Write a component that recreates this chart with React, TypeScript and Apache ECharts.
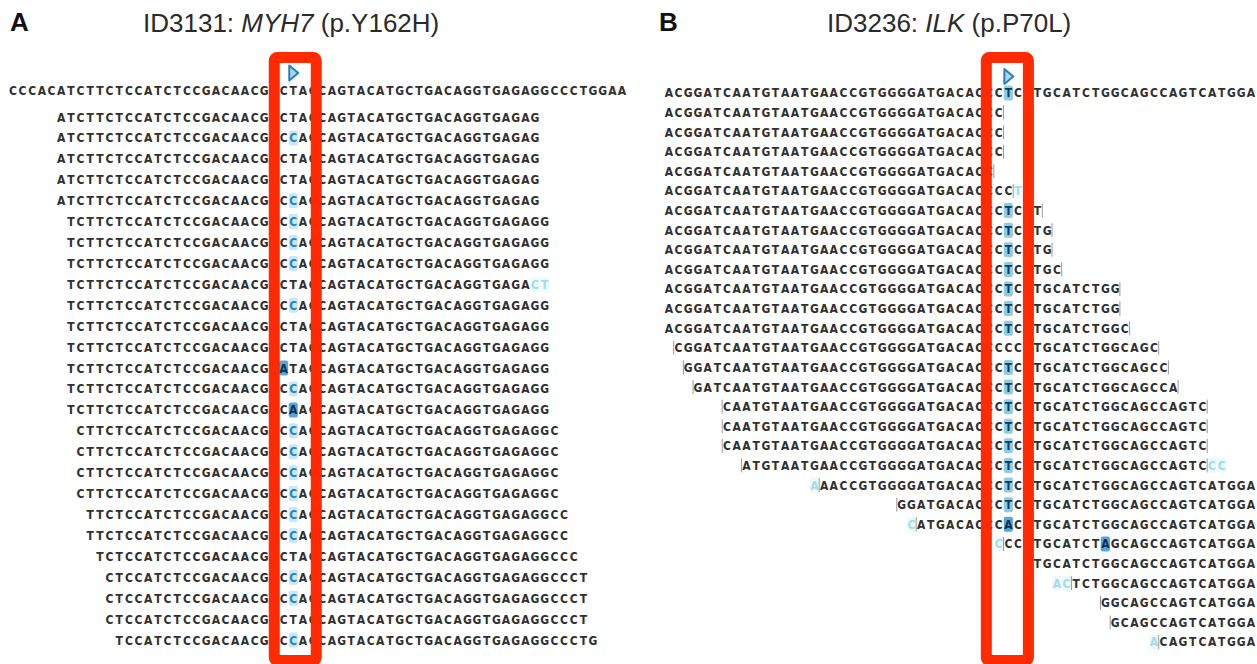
import { useEffect, useRef } from "react";
import * as echarts from "echarts";

// ---------------- Data: panel A (ID3131: MYH7 p.Y162H) ----------------
const refSeqA = "CCCACATCTTCTCCATCTCCGACAACGCCTACCAGTACATGCTGACAGGTGAGAGGCCCTGGAA";
const shownRefA = "CCCACATCTTCTCCATCTCCGACAACGCCTACCAGTACATGCTGACAGGTGAGAGGCCCTGGAA";
const readStartsA = [5, 5, 5, 5, 5, 6, 6, 6, 6, 6, 6, 6, 6, 6, 6, 7, 7, 7, 7, 8, 8, 9, 10, 10, 10, 11];
const readSeqsA = [
  "ATCTTCTCCATCTCCGACAACGCCTACCAGTACATGCTGACAGGTGAGAG",
  "ATCTTCTCCATCTCCGACAACGCCCACCAGTACATGCTGACAGGTGAGAG",
  "ATCTTCTCCATCTCCGACAACGCCTACCAGTACATGCTGACAGGTGAGAG",
  "ATCTTCTCCATCTCCGACAACGCCTACCAGTACATGCTGACAGGTGAGAG",
  "ATCTTCTCCATCTCCGACAACGCCCACCAGTACATGCTGACAGGTGAGAG",
  "TCTTCTCCATCTCCGACAACGCCCACCAGTACATGCTGACAGGTGAGAGG",
  "TCTTCTCCATCTCCGACAACGCCCACCAGTACATGCTGACAGGTGAGAGG",
  "TCTTCTCCATCTCCGACAACGCCCACCAGTACATGCTGACAGGTGAGAGG",
  "TCTTCTCCATCTCCGACAACGCCTACCAGTACATGCTGACAGGTGAGAct",
  "TCTTCTCCATCTCCGACAACGCCCACCAGTACATGCTGACAGGTGAGAGG",
  "TCTTCTCCATCTCCGACAACGCCTACCAGTACATGCTGACAGGTGAGAGG",
  "TCTTCTCCATCTCCGACAACGCCTACCAGTACATGCTGACAGGTGAGAGG",
  "TCTTCTCCATCTCCGACAACGCATACCAGTACATGCTGACAGGTGAGAGG",
  "TCTTCTCCATCTCCGACAACGCCCACCAGTACATGCTGACAGGTGAGAGG",
  "TCTTCTCCATCTCCGACAACGCCAACCAGTACATGCTGACAGGTGAGAGG",
  "CTTCTCCATCTCCGACAACGCCCACCAGTACATGCTGACAGGTGAGAGGC",
  "CTTCTCCATCTCCGACAACGCCCACCAGTACATGCTGACAGGTGAGAGGC",
  "CTTCTCCATCTCCGACAACGCCCACCAGTACATGCTGACAGGTGAGAGGC",
  "CTTCTCCATCTCCGACAACGCCCACCAGTACATGCTGACAGGTGAGAGGC",
  "TTCTCCATCTCCGACAACGCCCACCAGTACATGCTGACAGGTGAGAGGCC",
  "TTCTCCATCTCCGACAACGCCCACCAGTACATGCTGACAGGTGAGAGGCC",
  "TCTCCATCTCCGACAACGCCTACCAGTACATGCTGACAGGTGAGAGGCCC",
  "CTCCATCTCCGACAACGCCCACCAGTACATGCTGACAGGTGAGAGGCCCT",
  "CTCCATCTCCGACAACGCCCACCAGTACATGCTGACAGGTGAGAGGCCCT",
  "CTCCATCTCCGACAACGCCTACCAGTACATGCTGACAGGTGAGAGGCCCT",
  "TCCATCTCCGACAACGCCCACCAGTACATGCTGACAGGTGAGAGGCCCTG",
];
const variantColsA = [28, 30];
const markerColA = 29;

// ---------------- Data: panel B (ID3236: ILK p.P70L) ----------------
const refSeqB = "ACGGATCAATGTAATGAACCGTGGGGATGACACCCCCCTGCATCTGGCAGCCAGTCATGGA";
const shownRefB = "ACGGATCAATGTAATGAACCGTGGGGATGACACCCTCCTGCATCTGGCAGCCAGTCATGGA";
const readStartsB = [0, 0, 0, 0, 0, 0, 0, 0, 0, 0, 0, 0, 1, 2, 3, 6, 6, 6, 8, 15, 24, 25, 34, 38, 40, 45, 46, 50];
const readSeqsB = [
  "ACGGATCAATGTAATGAACCGTGGGGATGACACCC",
  "ACGGATCAATGTAATGAACCGTGGGGATGACACCC",
  "ACGGATCAATGTAATGAACCGTGGGGATGACACCC",
  "ACGGATCAATGTAATGAACCGTGGGGATGACACC",
  "ACGGATCAATGTAATGAACCGTGGGGATGACACCCCt",
  "ACGGATCAATGTAATGAACCGTGGGGATGACACCCTCCT",
  "ACGGATCAATGTAATGAACCGTGGGGATGACACCCTCCTG",
  "ACGGATCAATGTAATGAACCGTGGGGATGACACCCTCCTG",
  "ACGGATCAATGTAATGAACCGTGGGGATGACACCCTCCTGC",
  "ACGGATCAATGTAATGAACCGTGGGGATGACACCCTCCTGCATCTGG",
  "ACGGATCAATGTAATGAACCGTGGGGATGACACCCTCCTGCATCTGG",
  "ACGGATCAATGTAATGAACCGTGGGGATGACACCCTCCTGCATCTGGC",
  "CGGATCAATGTAATGAACCGTGGGGATGACACCCCCCTGCATCTGGCAGC",
  "GGATCAATGTAATGAACCGTGGGGATGACACCCTCCTGCATCTGGCAGCC",
  "GATCAATGTAATGAACCGTGGGGATGACACCCTCCTGCATCTGGCAGCCA",
  "CAATGTAATGAACCGTGGGGATGACACCCTCCTGCATCTGGCAGCCAGTC",
  "CAATGTAATGAACCGTGGGGATGACACCCTCCTGCATCTGGCAGCCAGTC",
  "CAATGTAATGAACCGTGGGGATGACACCCTCCTGCATCTGGCAGCCAGTC",
  "ATGTAATGAACCGTGGGGATGACACCCTCCTGCATCTGGCAGCCAGTCcc",
  "aAACCGTGGGGATGACACCCTCCTGCATCTGGCAGCCAGTCATGGA",
  "GGATGACACCCTCCTGCATCTGGCAGCCAGTCATGGA",
  "cATGACACCCACCTGCATCTGGCAGCCAGTCATGGA",
  "cCCCTGCATCTAGCAGCCAGTCATGGA",
  "TGCATCTGGCAGCCAGTCATGGA",
  "acTCTGGCAGCCAGTCATGGA",
  "GGCAGCCAGTCATGGA",
  "GCAGCCAGTCATGGA",
  "aCAGTCATGGA",
];
const variantColsB = [34, 36];
const markerColB = 35;

// ---------------- Layout / style ----------------
const W = 1257;
const H = 664;
const SEQ_FONT = "bold 12px 'Liberation Sans Narrow', 'DejaVu Sans Condensed', 'Roboto Condensed', 'Liberation Sans', sans-serif";
const LETTER = "#303030";
const SOFT = { color: "#a3dde8", bg: "#eef9fb" };
const MISMATCH: Record<string, { color: string; bg: string }> = {
  C: { color: "#1f86c0", bg: "#c9e7f4" },
  T: { color: "#0e3b63", bg: "#8fcbe6" },
  A: { color: "#0b2f52", bg: "#52a8d8" },
  G: { color: "#0b2f52", bg: "#8fcbe6" },
};
const BOX_RED = "#ff2a00";

type Panel = {
  refSeq: string;
  shownRef: string;
  starts: number[];
  seqs: string[];
  variant: number[];
  markerCol: number;
  bars: boolean;
  left: number;
  colPitch: number;
  row0: number;
  rowPitch: number;
  refRow: number;
  markerRow: number;
  boxTopRow: number;
  boxBottomRow: number;
  padL: number;
  padR: number;
};

const panels: Panel[] = [
  {
    refSeq: refSeqA, shownRef: shownRefA, starts: readStartsA, seqs: readSeqsA,
    variant: variantColsA, markerCol: markerColA, bars: false,
    left: 8, colPitch: 9.67, row0: 117, rowPitch: 20.92,
    refRow: -1.29, markerRow: -2.1, boxTopRow: -2.84, boxBottomRow: 25.98, padL: 1, padR: 3,
  },
  {
    refSeq: refSeqB, shownRef: shownRefB, starts: readStartsB, seqs: readSeqsB,
    variant: variantColsB, markerCol: markerColB, bars: true,
    left: 664, colPitch: 9.7, row0: 112.5, rowPitch: 19.61,
    refRow: -1.0, markerRow: -1.84, boxTopRow: -2.8, boxBottomRow: 27.95, padL: -2, padR: 0,
  },
];

type Cell = { col: number; row: number; letter: string; color: string; bg: string | null };

function buildCells(p: Panel): Cell[] {
  const cells: Cell[] = [];
  const addRow = (start: number, seq: string, row: number) => {
    for (let i = 0; i < seq.length; i++) {
      const ch = seq[i];
      const col = start + i;
      const up = ch.toUpperCase();
      const soft = ch !== up;
      if (soft) {
        cells.push({ col, row, letter: up, color: SOFT.color, bg: SOFT.bg });
      } else if (up !== p.refSeq[col]) {
        const m = MISMATCH[up];
        cells.push({ col, row, letter: up, color: m.color, bg: m.bg });
      } else {
        cells.push({ col, row, letter: up, color: LETTER, bg: null });
      }
    }
  };
  addRow(0, p.shownRef, p.refRow);
  p.seqs.forEach((s, r) => addRow(p.starts[r], s, r));
  return cells;
}

function buildBars(p: Panel): number[][] {
  const bars: number[][] = [];
  if (!p.bars) return bars;
  p.seqs.forEach((s, r) => {
    let first = -1;
    let last = -1;
    for (let i = 0; i < s.length; i++) {
      if (s[i] === s[i].toUpperCase()) {
        if (first < 0) first = p.starts[r] + i;
        last = p.starts[r] + i;
      }
    }
    if (first > 0) bars.push([first - 0.5, r]);
    if (last < p.refSeq.length - 1) bars.push([last + 0.5, r]);
  });
  return bars;
}

function buildOption() {
  const grids: any[] = [];
  const xAxes: any[] = [];
  const yAxes: any[] = [];
  const series: any[] = [];

  panels.forEach((p, k) => {
    const nCols = p.refSeq.length;
    const yMin = -3;
    const yMax = p.seqs.length;
    grids.push({
      left: p.left,
      top: p.row0 + yMin * p.rowPitch,
      width: nCols * p.colPitch,
      height: (yMax - yMin) * p.rowPitch,
      containLabel: false,
    });
    xAxes.push({ type: "value", gridIndex: k, min: -0.5, max: nCols - 0.5, show: false });
    yAxes.push({ type: "value", gridIndex: k, min: yMin, max: yMax, inverse: true, show: false });

    const cells = buildCells(p);
    series.push({
      type: "custom",
      xAxisIndex: k,
      yAxisIndex: k,
      silent: true,
      data: cells.map((c) => [c.col, c.row]),
      renderItem: (params: any, api: any) => {
        const c = cells[params.dataIndex];
        const pt = api.coord([c.col, c.row]);
        const w = api.coord([c.col + 0.5, c.row])[0] - api.coord([c.col - 0.5, c.row])[0];
        const children: any[] = [];
        if (c.bg) {
          children.push({
            type: "rect",
            shape: { x: pt[0] - w / 2 + 0.3, y: pt[1] - 7.5, width: w - 0.6, height: 15, r: 2 },
            style: { fill: c.bg },
          });
        }
        children.push({
          type: "text",
          x: pt[0],
          y: pt[1] + 0.5,
          style: { text: c.letter, fill: c.color, font: SEQ_FONT, align: "center", verticalAlign: "middle" },
        });
        return { type: "group", children };
      },
    });

    const bars = buildBars(p);
    if (bars.length) {
      series.push({
        type: "custom",
        xAxisIndex: k,
        yAxisIndex: k,
        silent: true,
        data: bars,
        renderItem: (_params: any, api: any) => {
          const pt = api.coord([api.value(0), api.value(1)]);
          return {
            type: "line",
            shape: { x1: pt[0], y1: pt[1] - 7, x2: pt[0], y2: pt[1] + 7 },
            style: { stroke: "#9a9a9a", lineWidth: 1 },
          };
        },
      });
    }

    // variant marker triangle
    series.push({
      type: "custom",
      xAxisIndex: k,
      yAxisIndex: k,
      silent: true,
      data: [[p.markerCol, p.markerRow]],
      renderItem: (_params: any, api: any) => {
        const pt = api.coord([api.value(0), api.value(1)]);
        return {
          type: "polygon",
          shape: { points: [[pt[0] - 4, pt[1] - 7.5], [pt[0] + 5, pt[1]], [pt[0] - 4, pt[1] + 7.5]] },
          style: { fill: "#a9d6ee", stroke: "#2a7fb8", lineWidth: 2, lineJoin: "round" },
        };
      },
    });

    // red highlight box around variant codon
    series.push({
      type: "custom",
      xAxisIndex: k,
      yAxisIndex: k,
      silent: true,
      z: 10,
      data: [[p.variant[0], p.variant[1]]],
      renderItem: (_params: any, api: any) => {
        const sw = 11;
        const x1 = api.coord([api.value(0) - 0.5, 0])[0] + p.padL - sw / 2;
        const x2 = api.coord([api.value(1) + 0.5, 0])[0] + p.padR + sw / 2;
        const y1 = api.coord([0, p.boxTopRow])[1];
        const y2 = api.coord([0, p.boxBottomRow])[1];
        return {
          type: "rect",
          shape: { x: x1, y: y1, width: x2 - x1, height: y2 - y1, r: 3 },
          style: { fill: "none", stroke: BOX_RED, lineWidth: sw },
        };
      },
    });
  });

  const titleFont = "'Liberation Sans', Arial, Helvetica, sans-serif";
  const mkTitle = (text: string, left: number) => ({
    text,
    left,
    top: 9.5,
    padding: 0,
    textStyle: {
      fontSize: 26,
      fontWeight: "normal",
      color: "#2a2a2a",
      fontFamily: titleFont,
      rich: {
        i: { fontStyle: "italic", fontSize: 26, color: "#2a2a2a", fontFamily: titleFont },
      },
    },
  });
  const mkLetter = (text: string, left: number) => ({
    text,
    left,
    top: 9,
    padding: 0,
    textStyle: { fontSize: 26, fontWeight: "bold", color: "#111", fontFamily: titleFont },
  });

  return {
    animation: false,
    backgroundColor: "#ffffff",
    title: [
      mkLetter("A", 10),
      mkTitle("ID3131: {i|MYH7} (p.Y162H)", 143),
      mkLetter("B", 659),
      mkTitle("ID3236: {i|ILK} (p.P70L)", 827),
    ],
    grid: grids,
    xAxis: xAxes,
    yAxis: yAxes,
    series,
  };
}

export default function App() {
  const ref = useRef<HTMLDivElement>(null);
  useEffect(() => {
    if (!ref.current) return;
    const chart = echarts.init(ref.current, null, { renderer: "svg" });
    chart.setOption(buildOption() as any);
    return () => chart.dispose();
  }, []);
  return (
    <div
      ref={ref}
      style={{ position: "fixed", left: 0, top: 0, width: W, height: H, background: "#fff" }}
    />
  );
}
